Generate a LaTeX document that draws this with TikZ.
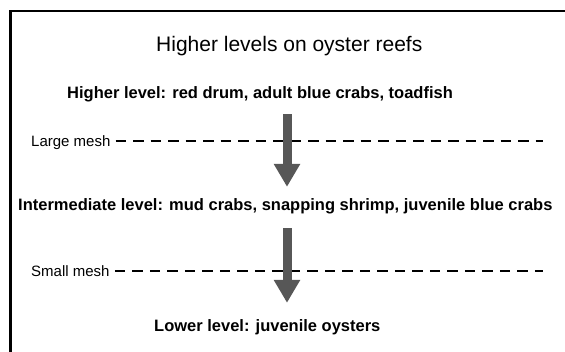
\documentclass[tikz,border=0pt]{standalone}
\usepackage{fontspec}
\setmainfont{Liberation Sans}
\usetikzlibrary{arrows.meta,positioning}
\definecolor{arrowgray}{HTML}{575757}

\begin{document}
\begin{tikzpicture}[x=1pt,y=-1pt,
  title/.style={font=\fontsize{21}{21}\selectfont, inner sep=0pt, anchor=base west},
  level/.style={font=\bfseries\fontsize{16.5}{16.5}\selectfont, inner sep=0pt, anchor=base west},
  meshlabel/.style={font=\fontsize{15}{15}\selectfont, inner sep=0pt, anchor=base west},
  flow/.style={line width=9pt, draw=arrowgray, -{Triangle[width=25pt,length=23pt,fill=arrowgray]}},
  mesh/.style={line width=2pt, dash pattern=on 10.5pt off 7pt}]
\useasboundingbox (0,0) rectangle (565,351);
% frame
\draw[line width=2.3pt] (566,10.8) -- (10.5,10.8) -- (10.5,352);
% texts
\node[title] (head) at (156,51) {Higher levels on oyster reefs};
\node[level] (high) at (67,98) {Higher level: red drum, adult blue crabs, toadfish};
\node[level] (mid) at (18,210) {Intermediate level: mud crabs, snapping shrimp, juvenile blue crabs};
\node[level] (low) at (154,331) {Lower level: juvenile oysters};
% meshes
\node[meshlabel] (large) at (31,146) {Large mesh};
\node[meshlabel] (small) at (31,276) {Small mesh};
\coordinate (largeend) at (543,141);
\coordinate (smallend) at (543,271);
\draw[mesh] (largeend -| large.east) ++(5,0) -- (largeend);
\draw[mesh] (smallend -| small.east) ++(5,0) -- (smallend);
% arrows
\coordinate (axis) at (287,0);
\draw[flow, shorten <=12.5pt, shorten >=11pt] (high.south -| axis) -- (mid.north -| axis);
\draw[flow, shorten <=14.5pt, shorten >=16pt] (mid.south -| axis) -- (low.north -| axis);
\end{tikzpicture}
\end{document}
